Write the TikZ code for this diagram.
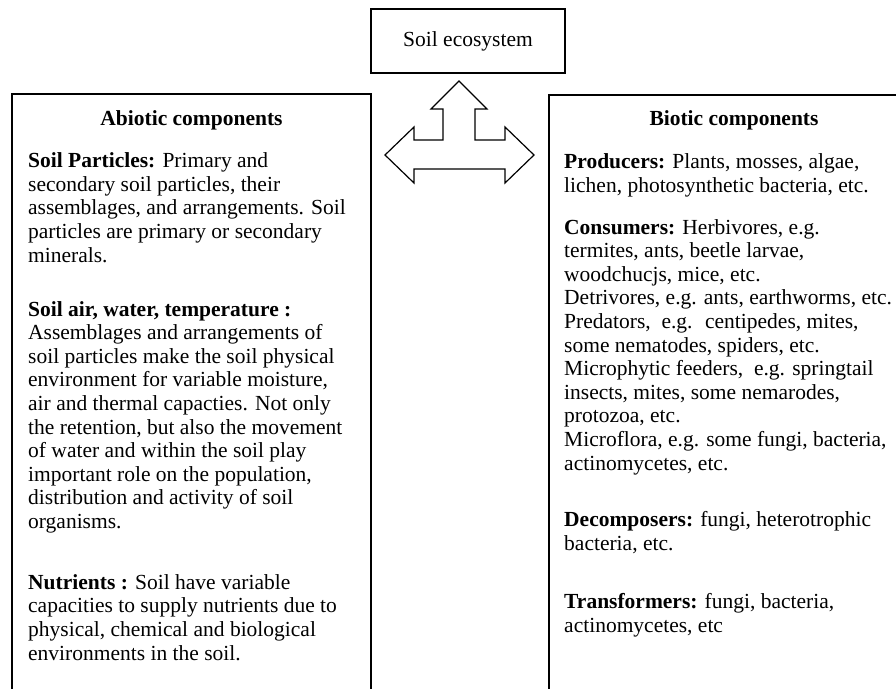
\documentclass[tikz,border=0pt]{standalone}
\usepackage{fontspec}
\setmainfont{Liberation Serif}
\usetikzlibrary{positioning}
\newcommand{\bodyfont}{\fontsize{21.5}{23.6}\selectfont}
\tikzset{
    para/.style={anchor=base west, align=left, inner sep=0pt},
    heading/.style={font=\bodyfont\bfseries, inner sep=0pt},
    frame/.style={line width=1.8pt}
}

\begin{document}
\begin{tikzpicture}[x=1pt, y=-1pt, font=\bodyfont]
    \useasboundingbox (0,0) rectangle (896,688);

    %top box
    \node[draw, line width=1.5pt, minimum width=194pt, minimum height=64pt] (eco) at (468,41) {Soil ecosystem};

    %open frames, they run off the page
    \draw[frame] (12,700) -- (12,94) -- (371,94) -- (371,700);
    \draw[frame] (549,700) -- (549,95) -- (920,95);

    %three-headed arrow
    \draw[line width=1.2pt, line join=miter]
        (459,81) -- (487,109) -- (475,109) -- (475,140) --
        (505,140) -- (505,127) -- (534,155) -- (505,183) -- (505,169) --
        (414,169) -- (414,183) -- (385,155) -- (414,127) -- (414,140) --
        (443,140) -- (443,109) -- (431,109) -- cycle;

    %abiotic side (nodes sit on the baseline of their last line)
    \node[heading] (abiotic) at (191.5,120) {Abiotic components};
    \node[para] (particles) at (28,262) {\textbf{Soil Particles:} Primary and\\
        secondary soil particles, their\\
        assemblages, and arrangements. Soil\\
        particles are primary or secondary\\
        minerals.};
    \node[para] (airwater) at (28,528.5) {\textbf{Soil air, water, temperature :}\\
        Assemblages and arrangements of\\
        soil particles make the soil physical\\
        environment for variable moisture,\\
        air and thermal capacties. Not only\\
        the retention, but also the movement\\
        of water and within the soil play\\
        important role on the population,\\
        distribution and activity of soil\\
        organisms.};
    \node[para] (nutrients) at (28,660) {\textbf{Nutrients :} Soil have variable\\
        capacities to supply nutrients due to\\
        physical, chemical and biological\\
        environments in the soil.};

    %biotic side
    \node[heading] (biotic) at (734,120) {Biotic components};
    \node[para] (producers) at (564,192) {\textbf{Producers:} Plants, mosses, algae,\\
        lichen, photosynthetic bacteria, etc.};
    \node[para] (consumers) at (564,470) {\textbf{Consumers:} Herbivores, e.g.\\
        termites, ants, beetle larvae,\\
        woodchucjs, mice, etc.\\
        Detrivores, e.g. ants, earthworms, etc.\\
        Predators, \ e.g. \ centipedes, mites,\\
        some nematodes, spiders, etc.\\
        Microphytic feeders, \ e.g. springtail\\
        insects, mites, some nemarodes,\\
        protozoa, etc.\\
        Microflora, e.g. some fungi, bacteria,\\
        actinomycetes, etc.};
    \node[para] (decomposers) at (564,550.5) {\textbf{Decomposers:} fungi, heterotrophic\\
        bacteria, etc.};
    \node[para] (transformers) at (564,632.5) {\textbf{Transformers:} fungi, bacteria,\\
        actinomycetes, etc};
\end{tikzpicture}
\end{document}
